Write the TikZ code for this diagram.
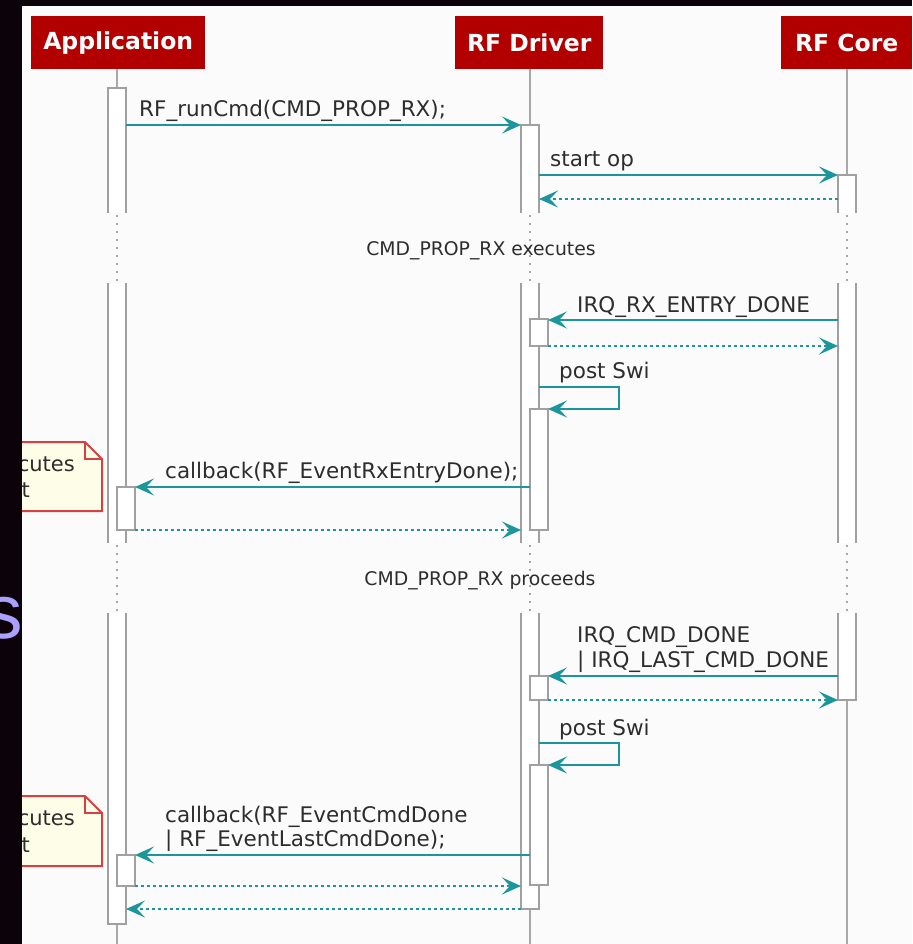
\documentclass[tikz,border=0pt]{standalone}
\usepackage{fontspec}
\setmainfont{DejaVu Sans}
\newfontfamily\slidefont{Liberation Sans}
\usetikzlibrary{arrows.meta}
\definecolor{bgdark}{RGB}{12,2,10}
\definecolor{paper}{RGB}{251,251,251}
\definecolor{hdrred}{RGB}{178,0,0}
\definecolor{tealc}{RGB}{28,150,156}
\definecolor{lifegrey}{RGB}{168,168,168}
\definecolor{bargrey}{RGB}{160,160,160}
\definecolor{txtc}{RGB}{45,45,45}
\definecolor{notefill}{RGB}{254,254,232}
\definecolor{noteedge}{RGB}{214,64,64}
\definecolor{slidepurple}{RGB}{170,160,255}
\begin{document}
\begin{tikzpicture}[x=1pt,y=-1pt,
  hdr/.style={fill=hdrred, text=white, font=\fontsize{23.5}{27}\selectfont\bfseries,
    minimum height=53pt, inner sep=0pt, anchor=north west},
  life/.style={draw=lifegrey, line width=2pt},
  dotl/.style={draw=lifegrey, line width=2pt, dash pattern=on 2pt off 6pt},
  barst/.style={draw=bargrey, line width=2pt},
  actbox/.style={fill=white, draw=bargrey, line width=2pt},
  msg/.style={draw=tealc, line width=2pt, -{Stealth[length=19pt,width=17pt,inset=8pt]}},
  ret/.style={msg, dash pattern=on 3pt off 3pt},
  lbl/.style={font=\fontsize{21.5}{25}\selectfont, text=txtc, inner sep=0pt, anchor=base west},
  divlbl/.style={font=\fontsize{18.8}{22}\selectfont, text=txtc, inner sep=0pt, anchor=base},
  notest/.style={fill=notefill, draw=noteedge, line width=2pt, line join=miter},
  notetxt/.style={font=\fontsize{21}{24}\selectfont, text=txtc, inner sep=0pt, anchor=base east}
]
\useasboundingbox (0,0) rectangle (912,944);
\fill[bgdark] (0,0) rectangle (912,944);
\node[font=\slidefont\fontsize{77}{80}\selectfont, text=slidepurple, anchor=base east, inner sep=0pt] (slide) at (23,638) {s};
\fill[paper] (22,6) rectangle (912,944);

\begin{scope}
\clip (22,6) rectangle (912,944);

% notes
\draw[notest] (0,442) -- (85,442) -- (102,459) -- (102,511) -- (0,511) -- cycle;
\draw[noteedge, line width=2pt] (85,442) -- (85,459) -- (102,459);
\node[notetxt] (n1a) at (75,471) {cutes};
\node[notetxt] (n1b) at (30,497) {t};
\draw[notest] (0,796) -- (85,796) -- (102,813) -- (102,866) -- (0,866) -- cycle;
\draw[noteedge, line width=2pt] (85,796) -- (85,813) -- (102,813);
\node[notetxt] (n2a) at (75,825) {cutes};
\node[notetxt] (n2b) at (30,852) {t};

% headers
\node[hdr, minimum width=174pt] (app) at (31,16) {Application};
\node[hdr, minimum width=148pt] (drv) at (455,16) {RF Driver};
\node[hdr, minimum width=131pt] (core) at (781,16) {RF Core};

% lifelines (solid parts)
\draw[life] (117,69) -- (117,88);
\draw[life] (117,924) -- (117,944);
\draw[life] (530,69) -- (530,125);
\draw[life] (530,909) -- (530,944);
\draw[life] (847,69) -- (847,175);
\draw[life] (847,700) -- (847,944);
% dotted parts
\foreach \xx in {117,530,847}{
  \draw[dotl] (\xx,215) -- (\xx,283);
  \draw[dotl] (\xx,545) -- (\xx,613);
}

% Application bar
\fill[white] (108,88) rectangle (126,213);
\draw[barst] (108,213) -- (108,88) -- (126,88) -- (126,213);
\fill[white] (108,283) rectangle (126,543);
\draw[barst] (108,283) -- (108,543);
\draw[barst] (126,283) -- (126,543);
\fill[white] (108,613) rectangle (126,924);
\draw[barst] (108,613) -- (108,924) -- (126,924) -- (126,613);

% Driver bar
\fill[white] (521,125) rectangle (539,213);
\draw[barst] (521,213) -- (521,125) -- (539,125) -- (539,213);
\fill[white] (521,283) rectangle (539,543);
\draw[barst] (521,283) -- (521,543);
\draw[barst] (539,283) -- (539,543);
\fill[white] (521,613) rectangle (539,909);
\draw[barst] (521,613) -- (521,909) -- (539,909) -- (539,613);

% Core bar
\fill[white] (838,175) rectangle (856,213);
\draw[barst] (838,213) -- (838,175) -- (856,175) -- (856,213);
\fill[white] (838,283) rectangle (856,543);
\draw[barst] (838,283) -- (838,543);
\draw[barst] (856,283) -- (856,543);
\fill[white] (838,613) rectangle (856,700);
\draw[barst] (838,613) -- (838,700) -- (856,700) -- (856,613);

% nested activations
\draw[actbox] (530,319) rectangle (548,346);
\draw[actbox] (530,409) rectangle (548,530);
\draw[actbox] (117,487) rectangle (135,530);
\draw[actbox] (530,676) rectangle (548,700);
\draw[actbox] (530,765) rectangle (548,885);
\draw[actbox] (117,855) rectangle (135,886);

% message end points
\coordinate (m1s) at (126,125); \coordinate (m1e) at (521,125);
\coordinate (m2s) at (539,175); \coordinate (m2e) at (838,175);
\coordinate (m3s) at (838,199); \coordinate (m3e) at (539,199);
\coordinate (m4s) at (838,320); \coordinate (m4e) at (548,320);
\coordinate (m5s) at (548,346); \coordinate (m5e) at (838,346);
\coordinate (m6s) at (539,387); \coordinate (m6a) at (619,387);
\coordinate (m6b) at (619,409); \coordinate (m6e) at (548,409);
\coordinate (m7s) at (530,487); \coordinate (m7e) at (135,487);
\coordinate (m8s) at (135,530); \coordinate (m8e) at (521,530);
\coordinate (m9s) at (838,676); \coordinate (m9e) at (548,676);
\coordinate (m10s) at (548,700); \coordinate (m10e) at (838,700);
\coordinate (m11s) at (539,743); \coordinate (m11a) at (619,743);
\coordinate (m11b) at (619,765); \coordinate (m11e) at (548,765);
\coordinate (m12s) at (530,855); \coordinate (m12e) at (135,855);
\coordinate (m13s) at (135,886); \coordinate (m13e) at (521,886);
\coordinate (m14s) at (521,909); \coordinate (m14e) at (126,909);

\draw[msg] (m1s) -- (m1e);
\draw[msg] (m2s) -- (m2e);
\draw[ret] (m3s) -- (m3e);
\draw[msg] (m4s) -- (m4e);
\draw[ret] (m5s) -- (m5e);
\draw[msg] (m6s) -- (m6a) -- (m6b) -- (m6e);
\draw[msg] (m7s) -- (m7e);
\draw[ret] (m8s) -- (m8e);
\draw[msg] (m9s) -- (m9e);
\draw[ret] (m10s) -- (m10e);
\draw[msg] (m11s) -- (m11a) -- (m11b) -- (m11e);
\draw[msg] (m12s) -- (m12e);
\draw[ret] (m13s) -- (m13e);
\draw[ret] (m14s) -- (m14e);

% labels
\node[lbl] (l1) at (139,117) {RF\_runCmd(CMD\_PROP\_RX);};
\node[lbl] (l2) at (550,167) {start op};
\node[lbl] (l4) at (577,312) {IRQ\_RX\_ENTRY\_DONE};
\node[lbl] (l6) at (559,378) {post Swi};
\node[lbl] (l7) at (165,478) {callback(RF\_EventRxEntryDone);};
\node[lbl] (l9a) at (577,642) {IRQ\_CMD\_DONE};
\node[lbl] (l9b) at (577,667) {| IRQ\_LAST\_CMD\_DONE};
\node[lbl] (l11) at (559,735) {post Swi};
\node[lbl] (l12a) at (165,822) {callback(RF\_EventCmdDone};
\node[lbl] (l12b) at (165,846) {| RF\_EventLastCmdDone);};

% dividers
\node[divlbl] (d1) at (481,255) {CMD\_PROP\_RX executes};
\node[divlbl] (d2) at (480,585) {CMD\_PROP\_RX proceeds};
\end{scope}
\end{tikzpicture}
\end{document}
